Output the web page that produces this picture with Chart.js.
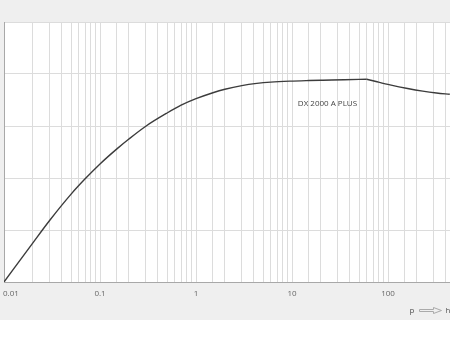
<!DOCTYPE html>
<html>
<head>
<meta charset="utf-8">
<script src="https://cdn.jsdelivr.net/npm/chart.js@4.4.0/dist/chart.umd.min.js"></script>
<style>
    html, body { margin: 0; padding: 0; background: #fff; }
    #wrap { width: 450px; height: 338px; overflow: hidden; position: relative; }
    canvas { display: block; }
</style>
</head>
<body>
<div id="wrap"><canvas id="curveChart" width="490" height="320"></canvas></div>
<script>
// valores (presion p -> altura h)
var pressure = [0.01, 0.02, 0.03, 0.05, 0.07, 0.1, 0.15, 0.2, 0.3, 0.5, 0.7, 1, 1.5, 2, 3, 4.3, 6, 9.5, 15, 21, 35, 60, 75, 105, 160, 230, 320, 440];
var height = [0, 0.754, 1.188, 1.69, 1.984, 2.27, 2.56, 2.75, 2.996, 3.25, 3.40, 3.525, 3.64, 3.707, 3.777, 3.819, 3.844, 3.863, 3.874, 3.88, 3.888, 3.90, 3.855, 3.79, 3.72, 3.67, 3.635, 3.61];
var kneeIndex = 21; // punto de quiebre en p = 60
var tickValues = [0.01, 0.1, 1, 10, 100];
var tickLabels = ["0.01", "0.1", "1", "10", "100"];
var seriesName = "DX 2000 A PLUS";
var seriesLabelAt = [11.5, 3.42];
var axisText = ["p", "h"];

var fontFamily = "'Open Sans', 'DejaVu Sans', sans-serif";

function puntos(desde, hasta) {
    var out = [];
    for (var i = desde; i <= hasta; i++) out.push({ x: pressure[i], y: height[i] });
    return out;
}

// fondo gris y area del grafico blanca
var backgroundPlugin = {
    id: "fondo",
    beforeDraw: function (chart) {
        var ctx = chart.ctx, a = chart.chartArea;
        ctx.save();
        ctx.fillStyle = "#efefef";
        ctx.fillRect(0, 0, chart.width, chart.height);
        ctx.fillStyle = "#ffffff";
        ctx.fillRect(a.left, a.top, a.right - a.left, a.bottom - a.top);
        ctx.restore();
    }
};

// etiquetas del eje x, nombre de la serie y la flecha p -> h
var labelsPlugin = {
    id: "etiquetas",
    afterDraw: function (chart) {
        var ctx = chart.ctx, a = chart.chartArea;
        var xs = chart.scales.x, ys = chart.scales.y;
        ctx.save();
        ctx.font = "8px " + fontFamily;
        ctx.fillStyle = "#666";
        ctx.textBaseline = "middle";
        for (var i = 0; i < tickValues.length; i++) {
            var px = xs.getPixelForValue(tickValues[i]);
            if (i === 0) {
                ctx.textAlign = "left";
                ctx.fillText(tickLabels[i], px - 1, a.bottom + 12);
            } else {
                ctx.textAlign = "center";
                ctx.fillText(tickLabels[i], px, a.bottom + 12);
            }
        }

        ctx.fillStyle = "#444";
        ctx.textAlign = "left";
        ctx.fillText(seriesName, xs.getPixelForValue(seriesLabelAt[0]), ys.getPixelForValue(seriesLabelAt[1]));

        // p => h
        ctx.fillStyle = "#555";
        ctx.textAlign = "center";
        ctx.fillText(axisText[0], 412, 311);
        ctx.fillText(axisText[1], 448, 311);
        ctx.strokeStyle = "#aaa";
        ctx.lineWidth = 1;
        ctx.beginPath();
        ctx.moveTo(419.5, 309.5);
        ctx.lineTo(433.5, 309.5);
        ctx.lineTo(433.5, 307.5);
        ctx.lineTo(441.5, 310.5);
        ctx.lineTo(433.5, 313.5);
        ctx.lineTo(433.5, 311.5);
        ctx.lineTo(419.5, 311.5);
        ctx.closePath();
        ctx.stroke();
        ctx.restore();
    }
};

var lineStyle = {
    borderColor: "#3c3c3c",
    borderWidth: 1.4,
    pointRadius: 0,
    cubicInterpolationMode: "monotone",
    fill: false
};

var ctx = document.getElementById("curveChart").getContext("2d");
var curveChart = new Chart(ctx, {
    type: "line",
    data: {
        datasets: [
            Object.assign({ label: seriesName, data: puntos(0, kneeIndex) }, lineStyle),
            Object.assign({ label: seriesName + " (2)", data: puntos(kneeIndex, pressure.length - 1) }, lineStyle)
        ]
    },
    options: {
        responsive: false,
        animation: false,
        devicePixelRatio: 1,
        layout: { padding: { left: 4, top: 22, right: 6, bottom: 38 } },
        plugins: {
            legend: { display: false },
            tooltip: { enabled: false }
        },
        scales: {
            x: {
                type: "logarithmic",
                min: 0.01,
                max: 1000,
                ticks: { display: false, autoSkip: false },
                grid: { color: "#dcdcdc", lineWidth: 1, drawTicks: false },
                border: { color: "#a8a8a8", width: 1 }
            },
            y: {
                min: 0,
                max: 5,
                ticks: { display: false, stepSize: 1 },
                grid: { color: "#dcdcdc", lineWidth: 1, drawTicks: false },
                border: { color: "#a8a8a8", width: 1 }
            }
        }
    },
    plugins: [backgroundPlugin, labelsPlugin]
});
</script>
</body>
</html>
